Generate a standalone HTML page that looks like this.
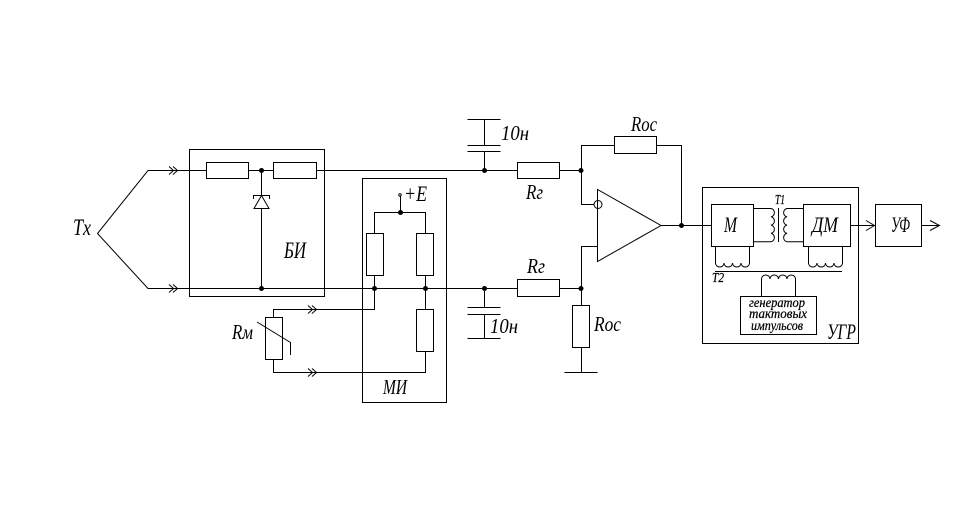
<!DOCTYPE html>
<html><head><meta charset="utf-8"><style>
html,body{margin:0;padding:0;background:#fff}
svg{display:block}
text{font-family:"Liberation Serif","DejaVu Serif",serif;font-style:italic;fill:#000}
.s{stroke:#000;stroke-width:.25}
</style></head><body>
<svg width="967" height="517" viewBox="0 0 967 517" xmlns="http://www.w3.org/2000/svg">
<g fill="none" stroke="#000" stroke-width="1">
<!-- boxes -->
<rect x="189.5" y="149.5" width="135" height="147"/>
<rect x="362.5" y="178.5" width="84" height="224"/>
<rect x="702.5" y="187.5" width="156" height="156"/>
<rect x="711.5" y="204.5" width="42" height="42"/>
<rect x="803.5" y="204.5" width="47" height="42"/>
<rect x="875.5" y="204.5" width="46" height="42"/>
<rect x="740.5" y="296.5" width="76" height="38"/>
<!-- Tx and main wires -->
<path d="M206.5 170.5H148L97.5 233.5L148 288.5H517.5"/>
<path d="M248.5 170.5H273.5M316.5 170.5H517.5M559.5 170.5H581.5M559.5 288.5H581.5"/>
<!-- resistors БИ -->
<rect x="206.5" y="162.5" width="42" height="16"/>
<rect x="273.5" y="162.5" width="43" height="16"/>
<!-- diode -->
<path d="M261.5 170.5V288.5"/>
<path d="M261.5 195.5L254 208.5H269Z" fill="#fff"/>
<path d="M253.5 199V195.5H269.5V199" />
<!-- МИ -->
<path d="M374.5 233V212.5H425.5V233M400.5 212.5V196"/>
<path d="M374.5 275V309.5H273.5V317M425.5 275V309.5M425.5 351.5V372.5H273.5V359.5"/>
<rect x="366.5" y="233.5" width="17" height="42"/>
<rect x="416.5" y="233.5" width="17" height="42"/>
<rect x="416.5" y="309.5" width="17" height="42"/>
<rect x="265.5" y="317.5" width="17" height="42"/>
<circle cx="400" cy="195" r="1.2"/>
<path d="M257 322L290.5 342.5V355"/>
<!-- chevrons -->
<path d="M169 166.5L173.5 170.5L169 174.5M173 166.5L177.5 170.5L173 174.5"/>
<path d="M169 284.5L173.5 288.5L169 292.5M173 284.5L177.5 288.5L173 292.5"/>
<path d="M308 305.5L312.5 309.5L308 313.5M312 305.5L316.5 309.5L312 313.5"/>
<path d="M308 368.5L312.5 372.5L308 376.5M312 368.5L316.5 372.5L312 376.5"/>
<!-- caps -->
<path d="M467.5 119.5H500.5M484.5 119.5V145.5M467.5 145.5H500.5M467.5 151.5H500.5M484.5 151.5V170.5"/>
<path d="M484.5 288.5V307.5M467.5 307.5H500.5M467.5 314.5H500.5M484.5 314.5V338.5M467.5 338.5H500.5"/>
<!-- resistors amp -->
<rect x="517.5" y="162.5" width="42" height="16"/>
<rect x="517.5" y="279.5" width="42" height="17"/>
<rect x="614.5" y="136.5" width="42" height="17"/>
<rect x="572.5" y="305.5" width="17" height="42"/>
<!-- amp -->
<path d="M597.5 189.5V261.5L661 225.5Z"/>
<circle cx="598" cy="204.5" r="4"/>
<path d="M594 204.5H581.5V145.5H614.5M656.5 145.5H681.5V225.5M661 225.5H711.5"/>
<path d="M597.5 246.5H581.5V305M581.5 347.5V372.5M564.5 372.5H597.5"/>
<!-- T1 -->
<path d="M753.5 208.5H771a4 4.2 0 0 1 0 8.3a4 4.2 0 0 1 0 8.3a4 4.2 0 0 1 0 8.3a4 4.2 0 0 1 0 8.3H753.5"/>
<path d="M803.5 208.5H787a4 4.2 0 0 0 0 8.3a4 4.2 0 0 0 0 8.3a4 4.2 0 0 0 0 8.3a4 4.2 0 0 0 0 8.3H803.5"/>
<path d="M778.5 208V242"/>
<!-- T2 -->
<path d="M715.5 246.5V263a4.25 4 0 0 0 8.5 0a4.25 4 0 0 0 8.5 0a4.25 4 0 0 0 8.5 0a4.25 4 0 0 0 8.5 0V246.5"/>
<path d="M808.5 246.5V263a4.25 4 0 0 0 8.5 0a4.25 4 0 0 0 8.5 0a4.25 4 0 0 0 8.5 0a4.25 4 0 0 0 8.5 0V246.5"/>
<path d="M715 271.5H842"/>
<path d="M761.5 296.5V279a4.25 4 0 0 1 8.5 0a4.25 4 0 0 1 8.5 0a4.25 4 0 0 1 8.5 0a4.25 4 0 0 1 8.5 0V296.5"/>
<!-- output -->
<path d="M850.5 225.5H875M866 220.5L874.5 225.5L866 230.5M921.5 225.5H939M930 220.5L939.5 225.5L930 230.5"/>
</g>
<g fill="#000">
<circle cx="261.5" cy="170.5" r="2.5"/><circle cx="261.5" cy="288.5" r="2.5"/>
<circle cx="400.5" cy="212.5" r="2.5"/><circle cx="374.5" cy="288.5" r="2.5"/><circle cx="425.5" cy="288.5" r="2.5"/>
<circle cx="484.5" cy="170.5" r="2.5"/><circle cx="484.5" cy="288.5" r="2.5"/>
<circle cx="581" cy="170.5" r="2.5"/><circle cx="581" cy="288.5" r="2.5"/><circle cx="681.5" cy="225.5" r="2.5"/>
</g>
<g>
<text x="73" y="235" font-size="23" textLength="18" lengthAdjust="spacingAndGlyphs">Tx</text>
<text x="284" y="258" font-size="23" textLength="22" lengthAdjust="spacingAndGlyphs">БИ</text>
<text x="404" y="201" font-size="22" textLength="23" lengthAdjust="spacingAndGlyphs">+E</text>
<text x="232" y="339" font-size="21" textLength="21" lengthAdjust="spacingAndGlyphs">Rм</text>
<text x="383" y="394" font-size="21" textLength="24" lengthAdjust="spacingAndGlyphs">МИ</text>
<text x="501" y="140" font-size="21" textLength="28" lengthAdjust="spacingAndGlyphs">10н</text>
<text x="490" y="333" font-size="21" textLength="28" lengthAdjust="spacingAndGlyphs">10н</text>
<text x="526" y="199" font-size="21" textLength="17" lengthAdjust="spacingAndGlyphs">Rг</text>
<text x="527" y="273" font-size="21" textLength="18" lengthAdjust="spacingAndGlyphs">Rг</text>
<text x="631" y="131" font-size="21" textLength="26" lengthAdjust="spacingAndGlyphs">Rос</text>
<text x="594" y="331" font-size="21" textLength="27" lengthAdjust="spacingAndGlyphs">Rос</text>
<text x="724" y="232" font-size="22" textLength="13" lengthAdjust="spacingAndGlyphs">М</text>
<text x="812" y="232" font-size="22" textLength="26" lengthAdjust="spacingAndGlyphs">ДМ</text>
<text x="891" y="232" font-size="22" textLength="19" lengthAdjust="spacingAndGlyphs">УФ</text>
<text class="s" x="775" y="204" font-size="14" textLength="10" lengthAdjust="spacingAndGlyphs">T1</text>
<text class="s" x="712" y="282" font-size="14" textLength="12" lengthAdjust="spacingAndGlyphs">T2</text>
<text class="s" x="749" y="307" font-size="14" textLength="56" lengthAdjust="spacingAndGlyphs">генератор</text>
<text class="s" x="749" y="318" font-size="14" textLength="58" lengthAdjust="spacingAndGlyphs">тактовых</text>
<text class="s" x="751" y="330" font-size="14" textLength="52" lengthAdjust="spacingAndGlyphs">импульсов</text>
<text x="827" y="339" font-size="22" textLength="29" lengthAdjust="spacingAndGlyphs">УГР</text>
</g>
</svg>
</body></html>
